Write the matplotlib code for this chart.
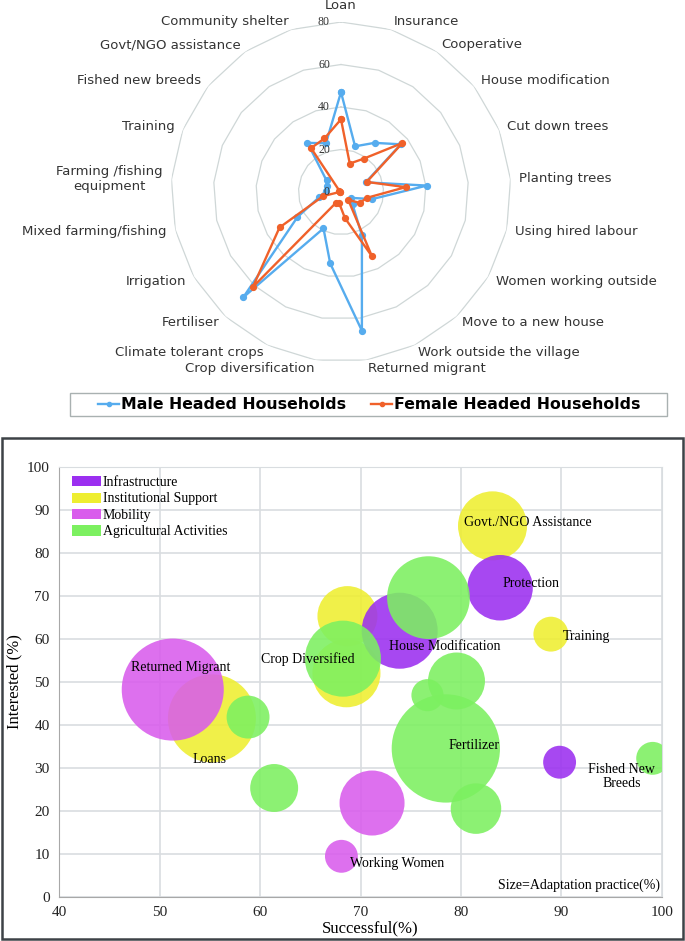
import numpy as np
import matplotlib
matplotlib.use("Agg")
import matplotlib.pyplot as plt
from matplotlib.lines import Line2D
from matplotlib.patches import Patch, Rectangle

# ---- radar data (adoption %, by household head) ----
practices = ["Loan", "Insurance", "Cooperative", "House modification", "Cut down trees",
             "Planting trees", "Using hired labour", "Women working outside",
             "Move to a new house", "Work outside the village", "Returned migrant",
             "Crop diversification", "Climate tolerant crops", "Fertiliser", "Irrigation",
             "Mixed farming/fishing", "Farming /fishing\nequipment", "Training",
             "Fished new breeds", "Govt/NGO assistance", "Community shelter"]
male = [47, 22.5, 28, 36, 12.5, 40.5, 15, 5.5, 8, 22.7, 66,
        34, 19, 67.6, 23.7, 10.4, 7, 7.3, 8.7, 28, 24]
female = [34.2, 14, 19, 37, 13, 30.5, 12.4, 10.3, 5, 33.5, 12.4,
          5.4, 5.8, 61, 33.4, 8.6, 0.5, 0.5, 1, 25, 26.4]
rings = [0, 20, 40, 60, 80]

# ---- bubble data ----
bub_group = ["Institutional Support"] * 5 + ["Infrastructure"] * 3 + ["Mobility"] * 3 + \
            ["Agricultural Activities"] * 9
bub_x = [68.7, 68.6, 83.15, 88.96, 55.2,
         73.9, 83.9, 89.83,
         51.3, 71.15, 68.1,
         78.5, 79.56, 76.67, 81.5, 76.77, 68.25, 61.4, 58.8, 99.1]
bub_y = [65.3, 52.0, 86.3, 61.1, 41.5,
         61.9, 71.9, 31.3,
         48.2, 21.8, 9.4,
         34.5, 50.2, 46.9, 20.5, 69.6, 55.4, 25.3, 41.8, 32.2]
bub_size = [21.3, 27.4, 28.2, 7.2, 45.8,
            34.2, 25.4, 6.4,
            61.6, 25.0, 6.4,
            69.4, 19.2, 6.1, 15.1, 40.5, 34.2, 13.6, 10.9, 6.4]
groups = ["Infrastructure", "Institutional Support", "Mobility", "Agricultural Activities"]
group_colors = {"Infrastructure": "#9b2ff0", "Institutional Support": "#eeee30",
                "Mobility": "#d95cec", "Agricultural Activities": "#7cf060"}
label_text = ["Govt./NGO Assistance", "Protection", "Training", "House Modification",
              "Crop Diversified", "Returned Migrant", "Loans", "Fertilizer",
              "Fished New\nBreeds", "Working Women"]
label_x = [86.67, 87.0, 92.5, 78.4, 64.8, 52.1, 55.0, 81.3, 96.0, 73.6]
label_y = [87.05, 72.8, 60.5, 58.2, 55.3, 53.3, 31.9, 35.2, 28.0, 7.8]

serif = "Liberation Serif"
fig = plt.figure(figsize=(6.85, 9.41), dpi=100)

# ================= radar =================
ax = fig.add_axes([0.2496, 0.6153, 0.4964, 0.3613], projection="polar")
ax.set_theta_zero_location("N")
ax.set_theta_direction(-1)
n = len(practices)
theta = np.linspace(0, 2 * np.pi, n, endpoint=False)
tc = np.append(theta, theta[0])
for r in rings[1:]:
    ax.plot(tc, [r] * (n + 1), color="#cfd7d7", lw=0.9, zorder=1)
ax.plot(tc, male + male[:1], color="#56acee", lw=1.7, marker="o", ms=4.2,
        label="Male Headed Households", zorder=3)
ax.plot(tc, female + female[:1], color="#f0612a", lw=1.7, marker="o", ms=4.2,
        label="Female Headed Households", zorder=4)
ax.set_ylim(0, 80)
ax.set_xticks([])
ax.set_yticks([])
ax.grid(False)
ax.spines["polar"].set_visible(False)
for r in rings:
    ax.annotate(str(r), xy=(0, r), xytext=(-8, 0), textcoords="offset points",
                ha="right", va="center", fontsize=8.5, family=serif, color="#333333", zorder=6)
for t, lab in zip(theta, practices):
    s = np.sin(t)
    if abs(s) < 0.05:
        ax.text(t, 88, lab, ha="center", va="center", fontsize=9.5, color="#333333")
    else:
        ax.text(t, 84, lab, ha="left" if s > 0 else "right", va="center",
                multialignment="center", fontsize=9.5, color="#333333")

# legend box
fig.patches.append(Rectangle((70 / 685, 1 - 416 / 941), 597 / 685, 23 / 941,
                             transform=fig.transFigure, fill=False,
                             edgecolor="#a9b1b1", lw=1))
h = [Line2D([], [], color="#56acee", lw=1.7, marker="o", ms=3),
     Line2D([], [], color="#f0612a", lw=1.7, marker="o", ms=3)]
fig.legend(h, ["Male Headed Households", "Female Headed Households"], loc="center",
           bbox_to_anchor=(369.4 / 685, 1 - 404.5 / 941), ncol=2, frameon=False,
           prop={"weight": "bold", "size": 11.3}, handlelength=1.35,
           handletextpad=0.1, columnspacing=1.6)

# ================= bubbles =================
fig.patches.append(Rectangle((2 / 685, 1 - 939 / 941), 681 / 685, 501 / 941,
                             transform=fig.transFigure, fill=False,
                             edgecolor="#3d4247", lw=1.8))
bx = fig.add_axes([59.3 / 685, 1 - 896.7 / 941, 602.4 / 685, 429.7 / 941])
scale = (13 * 0.72) ** 2
bx.scatter(bub_x, bub_y, s=[v * scale for v in bub_size],
           c=[group_colors[g] for g in bub_group], alpha=0.88, edgecolors="none", zorder=2)
for t, x, y in zip(label_text, label_x, label_y):
    bx.text(x, y, t, ha="center", va="center", fontsize=10, family=serif,
            linespacing=1.1, zorder=5)
bx.text(99.8, 2.6, "Size=Adaptation practice(%)", ha="right", va="center",
        fontsize=10, family=serif, zorder=5)
bx.set_xlim(40, 100)
bx.set_ylim(0, 100)
bx.set_xticks(range(40, 101, 10))
bx.set_yticks(range(0, 101, 10))
bx.grid(color="#d9dde0", lw=1.2)
bx.set_axisbelow(True)
bx.tick_params(length=0, labelsize=11, pad=7, colors="#222222")
for lab in bx.get_xticklabels() + bx.get_yticklabels():
    lab.set_family(serif)
for side in ["top", "right"]:
    bx.spines[side].set_color("#d9dde0")
for side in ["left", "bottom"]:
    bx.spines[side].set_color("#a8a8a8")
bx.set_xlabel("Successful(%)", fontsize=12, family=serif)
bx.xaxis.set_label_coords(0.516, -0.054)
bx.set_ylabel("Interested (%)", fontsize=12, family=serif)
bx.yaxis.set_label_coords(-0.062, 0.5)
leg_h = [Patch(facecolor=group_colors[g], edgecolor="none") for g in groups]
bx.legend(leg_h, groups, loc="upper left", bbox_to_anchor=(0.012, 0.992),
          frameon=False, prop={"family": serif, "size": 10}, handlelength=2.1,
          handleheight=0.75, handletextpad=0.1, labelspacing=0.25, borderaxespad=0)

fig.savefig("out.png", dpi=100)
